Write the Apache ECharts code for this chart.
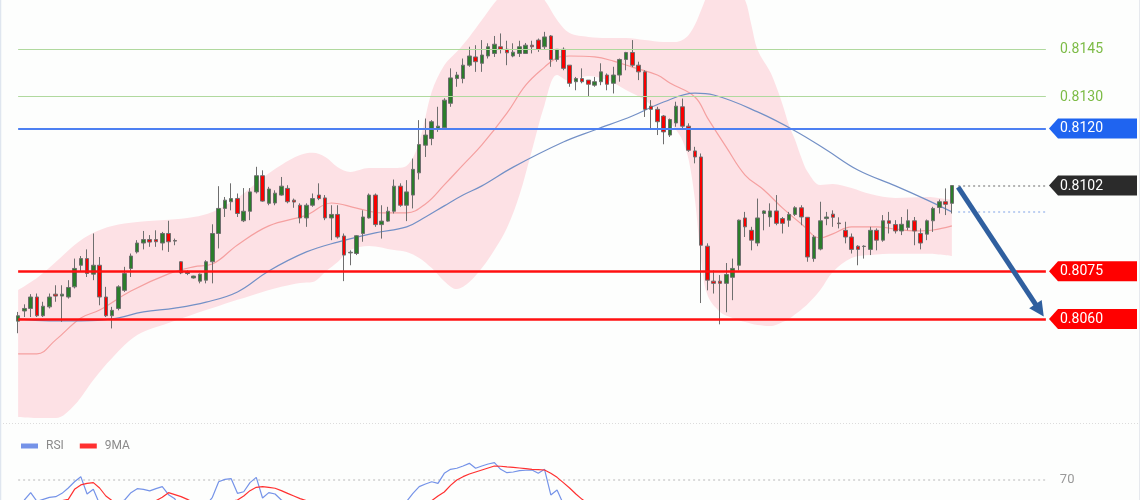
<!DOCTYPE html>
<html><head><meta charset="utf-8">
<script src="https://cdn.jsdelivr.net/npm/echarts/dist/echarts.min.js"></script>
<style>html,body{margin:0;padding:0;background:#fdfefd;}#c{width:1140px;height:500px;}</style>
</head><body><div id="c"></div>
<script>
// ---- candle data (price) ----
const opens=[0.80593,0.80625,0.80633,0.80669,0.80610,0.80638,0.80678,0.80672,0.80669,0.80701,
0.80769,0.80790,0.80741,0.80769,0.80669,0.80610,0.80633,0.80690,0.80759,0.80811,
0.80839,0.80850,0.80850,0.80839,0.80869,0.80847,0.80780,0.80748,0.80729,0.80719,
0.80722,0.80780,0.80869,0.80948,0.80969,0.80979,0.80909,0.80939,0.81000,0.81051,
0.80964,0.80965,0.80990,0.81011,0.80974,0.80958,0.80918,0.80958,0.80990,0.80981,
0.80918,0.80929,0.80861,0.80808,0.80806,0.80869,0.80918,0.80990,0.80897,0.80908,
0.80939,0.81018,0.80958,0.80990,0.81060,0.81147,0.81168,0.81200,0.81202,0.81279,
0.81357,0.81357,0.81399,0.81425,0.81405,0.81428,0.81436,0.81457,0.81449,0.81428,
0.81436,0.81436,0.81462,0.81478,0.81457,0.81491,0.81417,0.81449,0.81399,0.81347,
0.81357,0.81352,0.81336,0.81347,0.81368,0.81342,0.81368,0.81417,0.81439,0.81399,
0.81378,0.81270,0.81260,0.81239,0.81179,0.81217,0.81268,0.81207,0.81129,0.81110,
0.80829,0.80719,0.80719,0.80712,0.80731,0.80769,0.80918,0.80879,0.80839,0.80932,
0.80921,0.80940,0.80916,0.80911,0.80929,0.80950,0.80920,0.80790,0.80820,0.80916,
0.80930,0.80902,0.80879,0.80858,0.80829,0.80829,0.80819,0.80879,0.80848,0.80909,
0.80897,0.80877,0.80888,0.80909,0.80869,0.80867,0.80909,0.80951,0.80969,0.80964];
const closes=[0.80610,0.80633,0.80669,0.80610,0.80640,0.80669,0.80672,0.80678,0.80699,0.80759,
0.80790,0.80743,0.80769,0.80669,0.80610,0.80627,0.80701,0.80743,0.80798,0.80839,
0.80850,0.80842,0.80843,0.80869,0.80843,0.80845,0.80745,0.80743,0.80735,0.80741,
0.80780,0.80869,0.80948,0.80974,0.80979,0.80932,0.80939,0.81000,0.81051,0.80971,
0.81009,0.80996,0.81018,0.80969,0.80968,0.80918,0.80958,0.80979,0.80979,0.80918,
0.80929,0.80858,0.80801,0.80810,0.80862,0.80921,0.80990,0.80897,0.80908,0.80939,
0.81018,0.80958,0.81000,0.81071,0.81149,0.81179,0.81221,0.81207,0.81289,0.81359,
0.81368,0.81399,0.81428,0.81410,0.81431,0.81457,0.81465,0.81449,0.81438,0.81440,
0.81457,0.81462,0.81457,0.81449,0.81488,0.81417,0.81449,0.81389,0.81342,0.81357,
0.81347,0.81339,0.81347,0.81378,0.81339,0.81368,0.81417,0.81439,0.81399,0.81378,
0.81260,0.81260,0.81221,0.81189,0.81228,0.81270,0.81207,0.81131,0.81110,0.80832,
0.80722,0.80712,0.80712,0.80740,0.80759,0.80911,0.80890,0.80848,0.80918,0.80940,
0.80940,0.80901,0.80901,0.80929,0.80950,0.80921,0.80795,0.80858,0.80909,0.80921,
0.80920,0.80900,0.80858,0.80819,0.80819,0.80828,0.80879,0.80848,0.80909,0.80901,
0.80877,0.80898,0.80909,0.80877,0.80839,0.80909,0.80948,0.80969,0.80961,0.81020];
const lows=[0.80555,0.80606,0.80606,0.80606,0.80606,0.80633,0.80654,0.80591,0.80664,0.80696,
0.80748,0.80732,0.80722,0.80643,0.80606,0.80570,0.80627,0.80685,0.80732,0.80806,
0.80819,0.80827,0.80827,0.80816,0.80811,0.80832,0.80741,0.80738,0.80727,0.80712,
0.80712,0.80712,0.80822,0.80921,0.80942,0.80921,0.80905,0.80911,0.80995,0.80969,
0.80958,0.80958,0.80988,0.80964,0.80950,0.80901,0.80890,0.80953,0.80974,0.80911,
0.80848,0.80853,0.80719,0.80769,0.80801,0.80843,0.80916,0.80890,0.80853,0.80906,
0.80932,0.80953,0.80908,0.80948,0.81039,0.81110,0.81147,0.81189,0.81200,0.81268,
0.81331,0.81342,0.81394,0.81378,0.81378,0.81420,0.81425,0.81436,0.81399,0.81424,
0.81425,0.81436,0.81436,0.81441,0.81449,0.81394,0.81410,0.81383,0.81331,0.81320,
0.81342,0.81299,0.81331,0.81336,0.81320,0.81310,0.81347,0.81383,0.81393,0.81352,
0.81236,0.81200,0.81179,0.81150,0.81173,0.81205,0.81200,0.81126,0.81090,0.80650,
0.80690,0.80680,0.80583,0.80621,0.80659,0.80753,0.80858,0.80816,0.80829,0.80879,
0.80890,0.80895,0.80869,0.80890,0.80924,0.80895,0.80780,0.80780,0.80816,0.80895,
0.80890,0.80885,0.80838,0.80806,0.80769,0.80790,0.80801,0.80816,0.80843,0.80869,
0.80869,0.80864,0.80879,0.80832,0.80819,0.80848,0.80874,0.80932,0.80927,0.80932];
const highs=[0.80622,0.80646,0.80678,0.80680,0.80654,0.80680,0.80706,0.80706,0.80722,0.80790,
0.80798,0.80819,0.80869,0.80795,0.80701,0.80638,0.80706,0.80764,0.80806,0.80848,
0.80877,0.80864,0.80879,0.80874,0.80909,0.80853,0.80782,0.80753,0.80736,0.80743,
0.80785,0.80898,0.81018,0.80984,0.81027,0.80995,0.81012,0.81012,0.81079,0.81068,
0.81016,0.81005,0.81047,0.81021,0.80979,0.80964,0.80964,0.80995,0.81027,0.80990,
0.80958,0.80958,0.80869,0.80816,0.80864,0.80942,0.80995,0.80995,0.80958,0.80953,
0.81039,0.81027,0.81037,0.81105,0.81226,0.81231,0.81226,0.81268,0.81295,0.81389,
0.81378,0.81420,0.81457,0.81462,0.81478,0.81468,0.81491,0.81499,0.81476,0.81468,
0.81476,0.81469,0.81476,0.81483,0.81504,0.81494,0.81449,0.81455,0.81399,0.81362,
0.81389,0.81352,0.81362,0.81405,0.81373,0.81394,0.81420,0.81441,0.81478,0.81410,
0.81383,0.81289,0.81268,0.81242,0.81231,0.81284,0.81294,0.81216,0.81142,0.81121,
0.80838,0.80753,0.80738,0.80776,0.80790,0.80913,0.80937,0.80890,0.80979,0.80942,
0.80964,0.80990,0.80921,0.80937,0.80955,0.80958,0.80921,0.80864,0.80969,0.80937,
0.80942,0.80920,0.80906,0.80869,0.80832,0.80832,0.80890,0.80885,0.80927,0.80937,
0.80911,0.80921,0.80945,0.80921,0.80885,0.80913,0.80953,0.80976,0.81011,0.81021];

// ---- Bollinger band (sampled at candle indices) ----
const bandIdx=[0,3,6,9,12,15,19,24,28,31,35,39,42,45,47,49,51,53,56,60,62,64,66,68,70,72,74,76,78,80,82,84,86,88,91,94,97,100,103,105,106,107,108,109,110,112,114,116,117,118,120,121,122,123,124,125,126,128,130,133,136,140,145,149];
const bandUpper=[0.80691,0.80729,0.80779,0.80833,0.80871,0.80893,0.80905,0.80912,0.80921,0.80937,
0.80981,0.81044,0.81085,0.81116,0.81123,0.81110,0.81078,0.81063,0.81075,0.81075,
0.81082,0.81157,0.81315,0.81399,0.81441,0.81488,0.81541,0.81595,0.81636,0.81652,
0.81642,0.81604,0.81541,0.81500,0.81488,0.81485,0.81485,0.81478,0.81472,0.81472,
0.81478,0.81494,0.81526,0.81573,0.81620,0.81683,0.81667,0.81604,0.81526,0.81447,
0.81378,0.81330,0.81274,0.81211,0.81163,0.81107,0.81063,0.81022,0.81025,0.81012,
0.80993,0.80981,0.80984,0.80975];
const bandLower=[0.80291,0.80288,0.80288,0.80329,0.80408,0.80477,0.80549,0.80587,0.80615,0.80634,
0.80660,0.80685,0.80701,0.80713,0.80716,0.80748,0.80779,0.80817,0.80830,0.80817,
0.80811,0.80792,0.80760,0.80719,0.80694,0.80716,0.80760,0.80817,0.80886,0.80990,
0.81132,0.81274,0.81368,0.81349,0.81365,0.81352,0.81321,0.81289,0.81239,0.81195,
0.81163,0.81101,0.80975,0.80786,0.80675,0.80622,0.80603,0.80590,0.80585,0.80581,
0.80578,0.80582,0.80590,0.80600,0.80615,0.80630,0.80647,0.80691,0.80748,0.80792,
0.80801,0.80805,0.80805,0.80798];
// middle (pink) moving average
const midIdx=[0,3,6,10,13,18,24,28,31,35,40,46,50,54,58,62,65,68,71,74,78,81,84,86,88,92,95,98,102,104,108,110,113,116,119,122,125,128,130,133,137,140,143,146,149];
const midLine=[0.80490,0.80490,0.80534,0.80603,0.80628,0.80688,0.80742,0.80764,0.80773,0.80833,
0.80893,0.80927,0.80965,0.80949,0.80934,0.80934,0.80962,0.81022,0.81085,0.81148,
0.81248,0.81336,0.81393,0.81422,0.81428,0.81425,0.81412,0.81393,0.81368,0.81343,
0.81299,0.81233,0.81141,0.81053,0.81006,0.80949,0.80899,0.80855,0.80868,0.80890,
0.80890,0.80883,0.80877,0.80880,0.80893];
// slow (blue) moving average
const maIdx=[0,5,10,15,20,25,30,35,40,46,51,57,62,65,68,71,74,79,87,92,98,103,108,111,118,124,129,134,140,145,149];
const maLine=[0.80600,0.80594,0.80594,0.80600,0.80622,0.80634,0.80653,0.80685,0.80751,0.80811,0.80842,0.80871,0.80890,0.80921,0.80956,0.80990,0.81019,0.81078,0.81157,0.81195,0.81239,0.81283,0.81311,0.81305,0.81252,0.81192,0.81132,0.81069,0.81019,0.80975,0.80937];

// ---- RSI pane ----
const rsi=[48,55,60.5,54,55.5,57,57.5,60,64,68.7, 72.5,59.5,63,52,44, 46,53,55,60.5,63.5, 63,61.8,63.5,65,59,
56,45,43,41,44, 51,57,68.7,70.5,71, 60,61.2,68,72,56.5, 60.5,59.5,55,52,51, 47,51,53,52,46,
47,42,37,38,44, 49,54,46,47,50, 54,50,54,60,65, 67,68.7,67.5,75,78, 78.8,80.5,82.5,78.8,80.5,
82,83,78,75.5,76, 77,77.3,77.5,75,78, 58.8,62.5,52,44,45, 44,43,44,48,45, 48,53,54,50,47,
37,37,34,31,36, 41,35,29,28,18, 16,16,16,19,22, 38,37,35,41,42, 42,41,41,42,44,
42,35,40,45,45, 45,44,42,40,40, 40,44,42,46,45, 44,46,47,44,42, 46,49,51,50,54];
const rsiMA=[50,51,52,53,53,54,54,54.5,55.5,63, 66.3,67.5,68,64,58, 54.5,53,52,52,53, 53.5,54,54.5,57,60.5,
59,57.5,55.5,53,51, 50,51,52,53,54, 55,58,62,64.5,65, 64.5,63.8,62,60,58, 56,54.5,53,52,51,
50,49,47,46,45, 45,45,45,46,47, 48,49,50,51,52, 53,54.5,58,61,66, 70,72.5,74.5,76,77.5,
79,80.5,80.3,79.8,79.5, 79,78.5,78,77.8,77.5, 75,72,68,64,59.5, 55.5,52,50,48,47, 46,46,47,48,48,
46,44,42,40,39, 38,36,34,32,30, 27,25,23,21,21, 23,25,28,31,35, 38,40,40,41,41,
41,40,40,41,42, 42,43,43,42,42, 41,42,42,42,43, 43,44,44,44,44, 45,45,46,47,48];
const rsiLevel=70;

// ---- levels / labels ----
const levels=[0.8145,0.8130,0.8120,0.8102,0.8075,0.8060];
const levelText=['0.8145','0.8130','0.8120','0.8102','0.8075','0.8060'];
const arrowFrom=0.81015, arrowTo=0.80627;

// ---- layout/styling (not data) ----
const nCats=165, lastIdx=opens.length-1, edgeIdx=nCats-1;
const cats=Array.from({length:nCats},(_,i)=>String(i));
const levelStyle=[
 {line:{color:'#b0d99e',width:1,type:'solid'},full:true,text:'#7cbb45',box:null},
 {line:{color:'#b0d99e',width:1,type:'solid'},full:true,text:'#7cbb45',box:null},
 {line:{color:'#4d80f2',width:2,type:'solid'},full:true,text:'#ffffff',box:'#1f64f0'},
 {line:{color:'#9a9a9a',width:1.5,type:[2,3]},full:false,text:'#ffffff',box:'#2b2b2b'},
 {line:{color:'#ff1010',width:2.5,type:'solid'},full:true,text:'#ffffff',box:'#ff0000'},
 {line:{color:'#ff1010',width:2.5,type:'solid'},full:true,text:'#ffffff',box:'#ff0000'}
];
const yMin=0.802754, yMax=0.816043;

const candleData=opens.map((o,i)=>[o,closes[i],lows[i],highs[i]]);
const levelLines=levels.map((v,k)=>{
  const st=levelStyle[k];
  const a=st.full?0:lastIdx+1;
  return [{coord:[a,v],lineStyle:st.line},{coord:[edgeIdx,v]}];
});
const maLast=maLine[maLine.length-1];
levelLines.push([{coord:[lastIdx+1,maLast],lineStyle:{color:'#a9c1ee',width:1.5,type:[2,3]}},{coord:[edgeIdx,maLast]}]);

const chart=echarts.init(document.getElementById('c'),null,{renderer:'canvas'});
chart.setOption({
  animation:false,
  backgroundColor:'#fdfefd',
  grid:[{left:15,right:91,top:0,height:422},{left:15,right:91,top:440,height:60}],
  xAxis:[
    {type:'category',data:cats,gridIndex:0,show:false,boundaryGap:true},
    {type:'category',data:cats,gridIndex:1,show:false,boundaryGap:true}
  ],
  yAxis:[
    {type:'value',gridIndex:0,min:yMin,max:yMax,show:false,splitLine:{show:false}},
    {type:'value',gridIndex:1,min:55,max:100,show:false,splitLine:{show:false}}
  ],
  legend:{data:['RSI','9MA'],left:16,top:435,icon:'rect',itemWidth:17,itemHeight:5,itemGap:16,
    textStyle:{color:'#8a8a8a',fontSize:12,fontFamily:'Roboto',padding:[0,0,0,3]},selectedMode:false},
  series:[
    {type:'line',name:'bbLow',xAxisIndex:0,yAxisIndex:0,data:bandIdx.map((x,k)=>[x,bandLower[k]]),
      stack:'bb',smooth:0.35,symbol:'none',lineStyle:{opacity:0},z:1,silent:true},
    {type:'line',name:'bbBand',xAxisIndex:0,yAxisIndex:0,data:bandIdx.map((x,k)=>[x,bandUpper[k]-bandLower[k]]),
      stack:'bb',smooth:0.35,symbol:'none',lineStyle:{opacity:0},areaStyle:{color:'#fde1e5',opacity:1},z:1,silent:true},
    {type:'line',name:'mid',xAxisIndex:0,yAxisIndex:0,data:midIdx.map((x,k)=>[x,midLine[k]]),
      smooth:0.4,symbol:'none',lineStyle:{color:'#f5a0a0',width:1.2},z:2,silent:true,
      markLine:{silent:true,symbol:['none','none'],label:{show:false},data:levelLines,z:4}},
    {type:'line',name:'ma',xAxisIndex:0,yAxisIndex:0,data:maIdx.map((x,k)=>[x,maLine[k]]),
      smooth:0.4,symbol:'none',lineStyle:{color:'#7390c6',width:1.2},z:2,silent:true,
      markLine:{silent:true,symbol:['none','triangle'],symbolSize:[15,15],label:{show:false},
        lineStyle:{color:'#2f5f9f',width:5,type:'solid'},z:6,
        data:[[{coord:[lastIdx+1,arrowFrom]},{coord:[edgeIdx-1,arrowTo]}]]}},
    {type:'candlestick',name:'price',xAxisIndex:0,yAxisIndex:0,data:candleData,barWidth:4,z:3,
      itemStyle:{color:'#2b7d2b',color0:'#f80000',borderColor:'#6e6e6e',borderColor0:'#6e6e6e',borderWidth:1}},
    {type:'custom',name:'tags',xAxisIndex:0,yAxisIndex:0,clip:false,silent:true,z:10,
      data:levels.map(v=>[edgeIdx,v]),encode:{x:0,y:1},
      renderItem:function(params,api){
        const k=params.dataIndex;
        const p=api.coord([api.value(0),api.value(1)]);
        const x0=p[0]+api.size([1,0])[0]/2, y=p[1];
        const st=levelStyle[k];
        const ch=[];
        if(st.box){
          ch.push({type:'polygon',shape:{points:[[x0,y],[x0+9,y-10],[x0+88,y-10],[x0+88,y+10],[x0+9,y+10]]},style:{fill:st.box}});
        }
        ch.push({type:'text',style:{text:levelText[k],x:x0+11,y:y+0.5,verticalAlign:'middle',align:'left',fill:st.text,font:'14px Roboto'}});
        return {type:'group',children:ch};
      }},
    {type:'line',name:'RSI',xAxisIndex:1,yAxisIndex:1,data:rsi,symbol:'none',color:'#7593e8',
      lineStyle:{color:'#7593e8',width:1.2},z:3},
    {type:'line',name:'9MA',xAxisIndex:1,yAxisIndex:1,data:rsiMA,symbol:'none',color:'#ff3030',
      lineStyle:{color:'#ff3030',width:1.2},z:3},
    {type:'line',name:'rsiLevel',xAxisIndex:1,yAxisIndex:1,data:[[0,rsiLevel],[edgeIdx,rsiLevel]],symbol:'none',
      lineStyle:{color:'#b8b8b8',width:1,type:[2,3]},z:2,silent:true,
      endLabel:{show:true,formatter:String(rsiLevel),color:'#999',fontSize:13,fontFamily:'Roboto',distance:14}}
  ],
  graphic:[
    {type:'line',shape:{x1:0,y1:423.5,x2:1140,y2:423.5},style:{stroke:'#dcdcdc',lineWidth:1,lineDash:[1,2]},silent:true},
    {type:'line',shape:{x1:0.5,y1:0,x2:0.5,y2:500},style:{stroke:'#dfe6ef',lineWidth:1.5},silent:true},
    {type:'line',shape:{x1:1139.5,y1:0,x2:1139.5,y2:500},style:{stroke:'#e6e9ee',lineWidth:1},silent:true}
  ]
});
</script></body></html>
